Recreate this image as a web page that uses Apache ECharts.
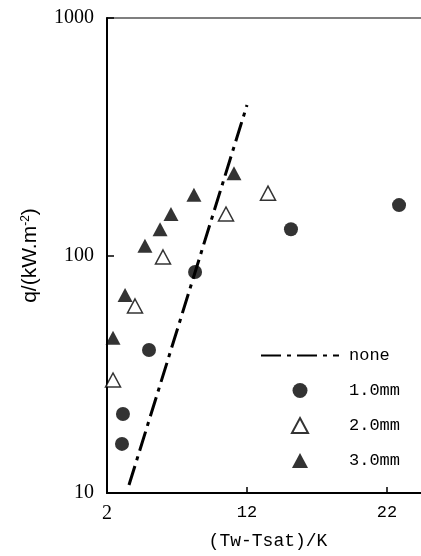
<!DOCTYPE html>
<html>
<head>
<meta charset="utf-8">
<script src="https://cdn.jsdelivr.net/npm/echarts@6/dist/echarts.min.js"></script>
<style>
  html, body { margin: 0; padding: 0; background: #fff; overflow: hidden; }
  #chart { width: 440px; height: 556px; }
</style>
</head>
<body>
<div id="chart"></div>
<script>
// Superheat (Tw - Tsat, K) vs heat flux q (kW/m²)
const noneLineX = [3.57, 12.0];
const noneLineQ = [10.8, 430];

const d10X = [3.07, 3.14, 5.0, 8.29, 15.14, 22.86];
const d10Q = [16.1, 21.5, 40.0, 85.2, 129, 163];

const d20X = [2.43, 4.0, 6.0, 10.5, 13.5];
const d20Q = [29.9, 61.3, 98.6, 149.5, 183];

const d30X = [2.43, 3.29, 4.71, 5.79, 6.57, 8.21, 11.07];
const d30Q = [45, 68.2, 110, 129, 149.5, 180, 222];

const seriesNames = ['none', '1.0mm', '2.0mm', '3.0mm'];
const xTickLabels = [2, 12, 22];

const zip = (xs, ys) => xs.map((x, i) => [x, ys[i]]);

const serif = '"Liberation Serif", "Times New Roman", serif';
const mono = '"Liberation Mono", "DejaVu Sans Mono", monospace';
const sans = '"Liberation Sans", Arial, sans-serif';

const triPath = 'path://M7.5,0 L15,14 L0,14 Z';

const chart = echarts.init(document.getElementById('chart'), null, { renderer: 'canvas' });

chart.setOption({
  animation: false,
  backgroundColor: '#fff',
  grid: {
    left: 107, top: 18, right: 11, bottom: 63,
    show: true, borderColor: '#555', borderWidth: 1.5,
    containLabel: false
  },
  legend: {
    orient: 'vertical',
    left: 260, top: 347,
    padding: 0,
    itemWidth: 78, itemHeight: 15, itemGap: 18,
    symbolKeepAspect: true,
    data: [
      { name: seriesNames[0], itemStyle: { color: 'rgba(0,0,0,0)', borderWidth: 0 } },
      { name: seriesNames[1], icon: 'circle' },
      { name: seriesNames[2], icon: triPath },
      { name: seriesNames[3], icon: triPath }
    ],
    textStyle: { fontFamily: mono, fontSize: 17, color: '#000', padding: [0, 0, 0, 5] }
  },
  xAxis: {
    type: 'value',
    min: 2, max: 25, interval: 10,
    name: '(Tw-Tsat)/K',
    nameLocation: 'middle', nameGap: 39,
    nameTextStyle: { fontFamily: mono, fontSize: 18, color: '#000' },
    axisLine: { show: true, onZero: false, lineStyle: { color: '#000', width: 2 } },
    axisTick: { show: true, inside: true, length: 6, lineStyle: { color: '#000', width: 1.5 } },
    axisLabel: {
      margin: 11, color: '#000', fontFamily: mono, fontSize: 17,
      showMaxLabel: false,
      formatter: v => {
        if (!xTickLabels.includes(v)) return '';
        return v === 2 ? '{s|2}' : String(v);
      },
      rich: { s: { fontFamily: serif, fontSize: 20, color: '#000' } }
    },
    splitLine: { show: false }
  },
  yAxis: {
    type: 'log', logBase: 10,
    min: 10, max: 1000,
    name: 'q/(kW.m{sup|-2})',
    nameLocation: 'middle', nameGap: 66, nameRotate: 90,
    nameTextStyle: {
      fontFamily: sans, fontSize: 21, color: '#000',
      rich: { sup: { fontFamily: sans, fontSize: 12, color: '#000', verticalAlign: 'top', padding: [0, 0, 8, 0] } }
    },
    axisLine: { show: true, onZero: false, lineStyle: { color: '#000', width: 2 } },
    axisTick: { show: true, inside: true, length: 7, lineStyle: { color: '#000', width: 1.5 } },
    minorTick: { show: false },
    axisLabel: { margin: 13, color: '#000', fontFamily: serif, fontSize: 20, formatter: v => String(v) },
    splitLine: { show: false }
  },
  series: [
    {
      name: 'none', type: 'line',
      data: zip(noneLineX, noneLineQ),
      symbol: 'none',
      lineStyle: { color: '#000', width: 3, type: [20, 6, 4, 6] },
      itemStyle: { color: '#000' },
      z: 3
    },
    {
      name: '1.0mm', type: 'scatter',
      data: zip(d10X, d10Q),
      symbol: 'circle', symbolSize: 14,
      itemStyle: { color: '#000' }
    },
    {
      name: '2.0mm', type: 'scatter',
      data: zip(d20X, d20Q),
      symbol: 'triangle', symbolSize: [15, 14],
      itemStyle: { color: '#fff', borderColor: '#000', borderWidth: 1.5 }
    },
    {
      name: '3.0mm', type: 'scatter',
      data: zip(d30X, d30Q),
      symbol: 'triangle', symbolSize: [15, 14],
      itemStyle: { color: '#000' }
    }
  ]
});
</script>
</body>
</html>
